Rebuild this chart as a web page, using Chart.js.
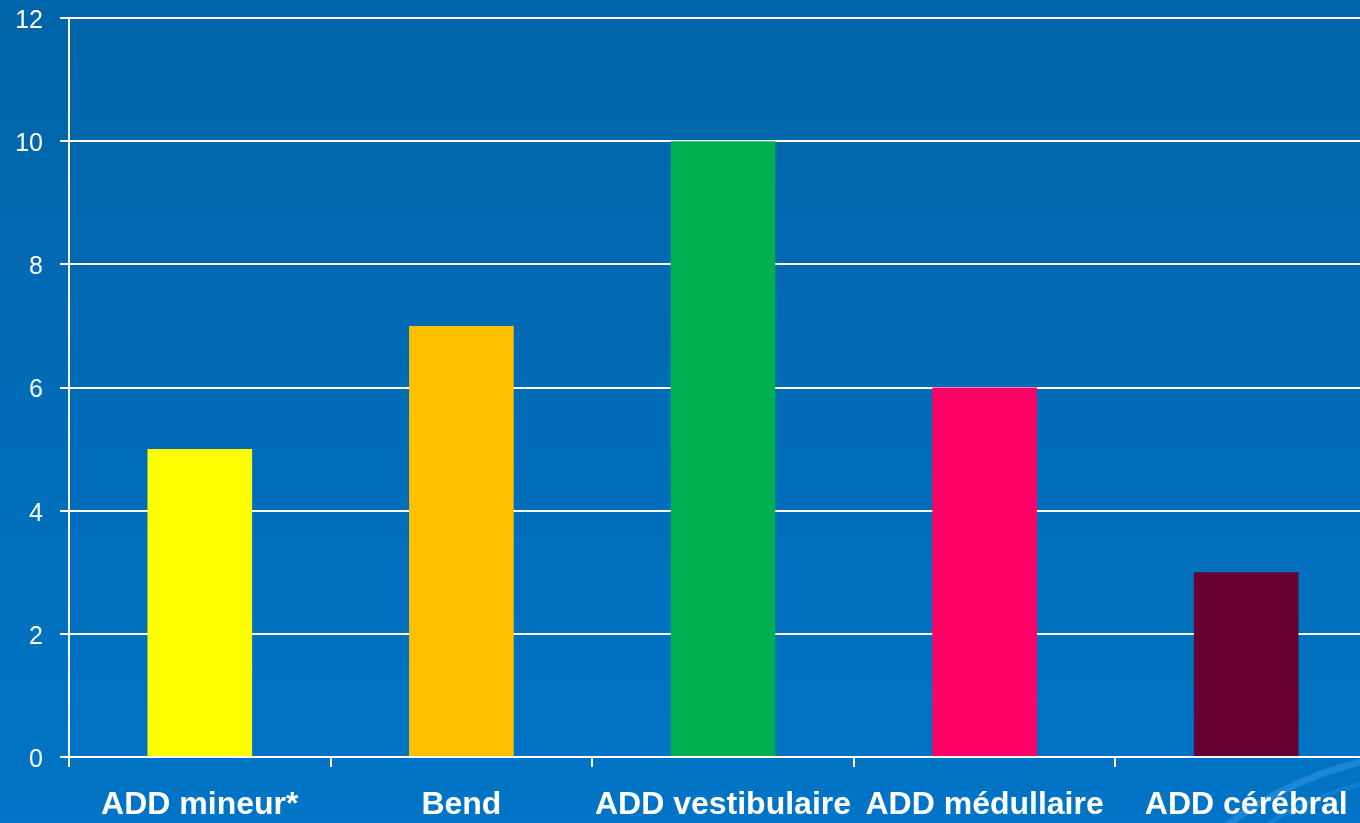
<!DOCTYPE html>
<html>
<head>
<meta charset="utf-8">
<script src="https://cdn.jsdelivr.net/npm/chart.js@4"></script>
<style>
  html, body { margin: 0; padding: 0; overflow: hidden; background: #006aB4; }
  #wrap { width: 1380px; height: 823px; position: relative; }
</style>
</head>
<body>
<div id="wrap"><canvas id="barChart"></canvas></div>
<script>
// Chart data
const categories = ["ADD mineur*", "Bend", "ADD vestibulaire", "ADD médullaire", "ADD cérébral"];
const counts = [5, 7, 10, 6, 3];
const barColors = ["#FFFF00", "#FFC000", "#00B050", "#FF0066", "#660033"];
const yTicks = [0, 2, 4, 6, 8, 10, 12];

// Blue gradient slide background + decorative arc
const slideBackground = {
  id: "slideBackground",
  beforeDraw(chart) {
    const ctx = chart.ctx;
    const h = chart.height;
    const g = ctx.createLinearGradient(0, 0, 0, h);
    g.addColorStop(0, "#0064A8");
    g.addColorStop(1, "#0074C6");
    ctx.save();
    ctx.fillStyle = g;
    ctx.fillRect(0, 0, chart.width, h);
    ctx.strokeStyle = "rgba(50, 150, 235, 0.55)";
    ctx.lineWidth = 7;
    ctx.beginPath();
    ctx.moveTo(1218, 832);
    ctx.quadraticCurveTo(1290, 775, 1380, 758);
    ctx.stroke();
    ctx.strokeStyle = "rgba(50, 150, 235, 0.35)";
    ctx.lineWidth = 4;
    ctx.beginPath();
    ctx.moveTo(1255, 832);
    ctx.quadraticCurveTo(1315, 792, 1380, 780);
    ctx.stroke();
    ctx.restore();
  },
};

function initBarChart() {
  const ctx = document.getElementById("barChart").getContext("2d");

  new Chart(ctx, {
    type: "bar",
    data: {
      labels: categories,
      datasets: [
        {
          data: counts,
          backgroundColor: barColors,
          borderWidth: 0,
          barPercentage: 0.4,
          categoryPercentage: 1,
        },
      ],
    },
    plugins: [slideBackground],
    options: {
      responsive: true,
      maintainAspectRatio: false,
      animation: false,
      layout: { padding: { top: 18, right: 3, left: 0, bottom: 0 } },
      plugins: {
        legend: { display: false },
        title: { display: false },
        tooltip: { enabled: false },
      },
      scales: {
        x: {
          grid: {
            display: true,
            drawOnChartArea: false,
            drawTicks: true,
            tickLength: 10,
            color: "#FFFFFF",
            lineWidth: 2,
            offset: true,
          },
          border: { color: "#FFFFFF", width: 2 },
          ticks: {
            color: "#FFFFFF",
            font: { family: "Liberation Sans, Arial", size: 32, weight: "bold" },
            padding: 19,
            maxRotation: 0,
            autoSkip: false,
          },
          afterFit(scale) {
            scale.height = 66;
            scale.paddingLeft = 0;
            scale.paddingRight = 0;
          },
        },
        y: {
          min: 0,
          max: 12,
          afterBuildTicks(scale) {
            scale.ticks = yTicks.map((v) => ({ value: v }));
          },
          grid: {
            color: "#FFFFFF",
            lineWidth: 2,
            tickLength: 9,
          },
          border: { color: "#FFFFFF", width: 2 },
          ticks: {
            color: "#FFFFFF",
            font: { family: "Liberation Sans, Arial", size: 25 },
            padding: 17,
            labelOffset: 3,
          },
          afterFit(scale) {
            scale.width = 69;
            scale.paddingTop = 0;
            scale.paddingBottom = 0;
          },
        },
      },
    },
  });
}

document.addEventListener("DOMContentLoaded", () => {
  initBarChart();
});
</script>
</body>
</html>
